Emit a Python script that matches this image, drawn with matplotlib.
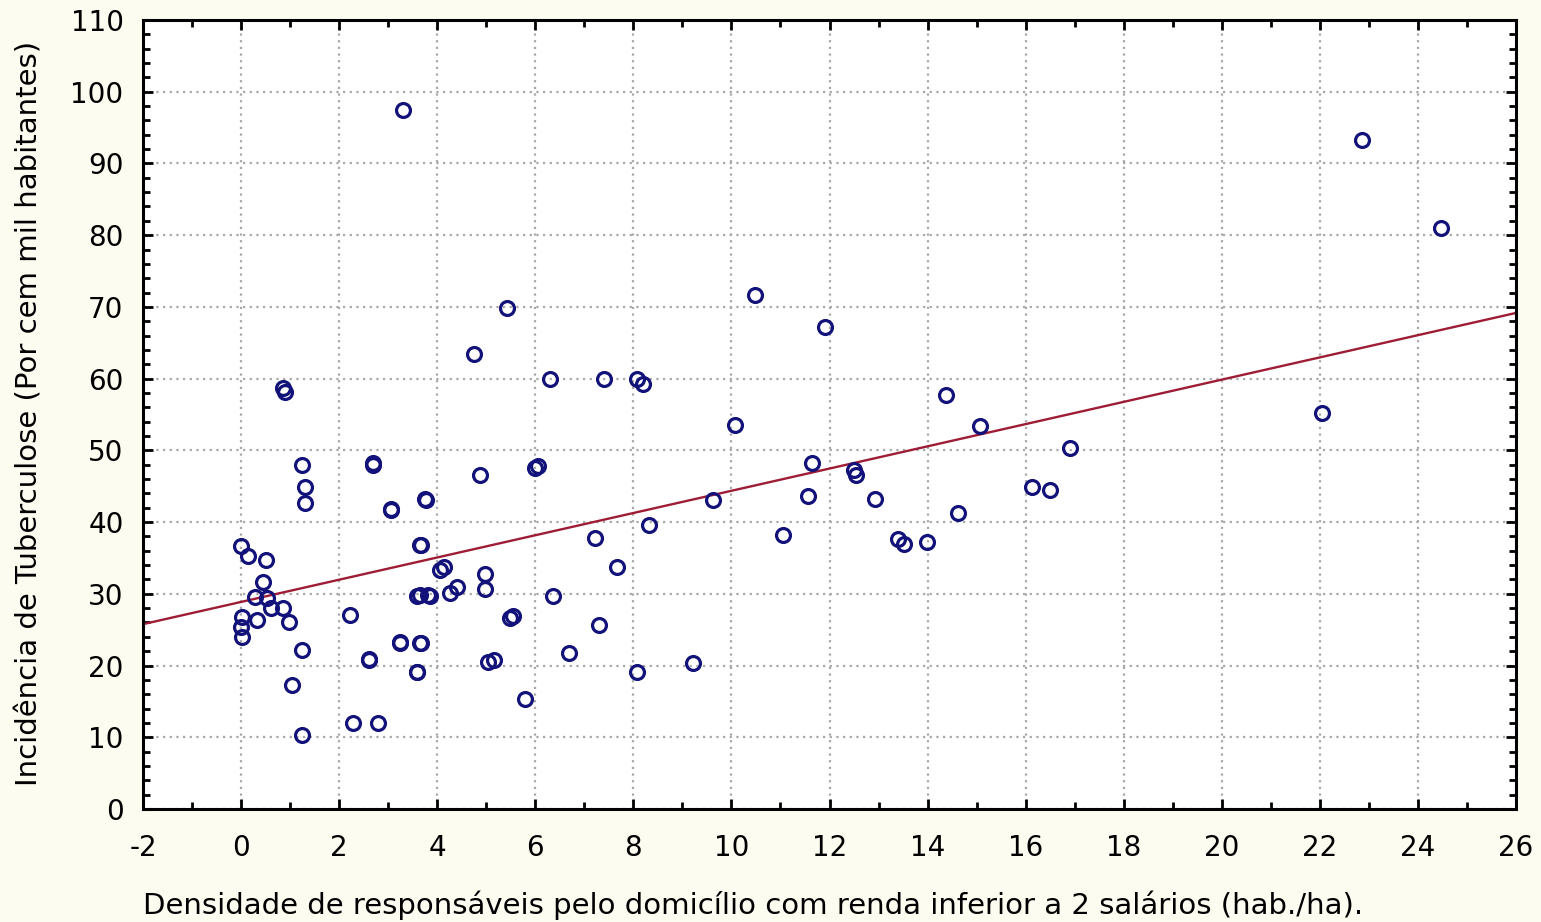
import matplotlib.pyplot as plt
import numpy as np

# densidade de responsaveis (hab./ha)
densidade = [
    1.24, 1.30, 1.30, 2.70, 3.75, 3.05, 3.65, 0.00, 0.15, 0.50,
    0.45, 0.29, 0.52, 0.60, 0.86, 0.97, 0.01, 0.32, 0.01, 0.00,
    1.24, 1.03, 1.24, 2.22, 2.60, 2.29, 2.79, 3.24, 3.65, 3.58,
    3.65, 3.82, 4.06, 4.40, 4.26, 5.42, 4.74, 6.30, 7.41, 8.07,
    8.19, 2.70, 4.87, 5.99, 3.77, 3.06, 8.32, 7.22, 3.67, 7.66,
    4.13, 4.98, 4.98, 3.58, 3.85, 6.37, 5.49, 7.29, 3.24, 3.67,
    6.69, 2.60, 3.58, 5.04, 5.15, 8.07, 9.22, 5.79, 9.63, 10.48,
    11.91, 14.37, 10.07, 15.07, 11.64, 12.49, 12.55, 16.90, 11.57, 12.93,
    16.12, 16.50, 14.63, 11.06, 13.40, 13.52, 13.98, 3.30, 22.86, 24.47,
    22.04, 0.86, 0.90, 5.55, 6.05,
]

# incidencia de tuberculose (por cem mil habitantes)
incidencia = [
    48.0, 44.9, 42.6, 48.2, 43.2, 41.7, 36.8, 36.6, 35.3, 34.7,
    31.7, 29.6, 29.4, 28.0, 28.0, 26.1, 26.8, 26.3, 24.0, 25.4,
    22.2, 17.3, 10.3, 27.1, 20.9, 12.0, 12.0, 23.3, 23.2, 19.1,
    29.8, 29.8, 33.3, 31.0, 30.1, 69.8, 63.5, 59.9, 59.9, 59.9,
    59.2, 48.0, 46.6, 47.5, 43.1, 41.8, 39.6, 37.8, 36.8, 33.7,
    33.8, 32.8, 30.7, 29.7, 29.7, 29.7, 26.6, 25.7, 23.2, 23.1,
    21.8, 20.8, 19.1, 20.5, 20.8, 19.1, 20.3, 15.4, 43.1, 71.7,
    67.2, 57.7, 53.5, 53.4, 48.2, 47.2, 46.6, 50.3, 43.6, 43.2,
    44.9, 44.5, 41.3, 38.2, 37.7, 37.0, 37.2, 97.4, 93.3, 81.0,
    55.2, 58.7, 58.2, 26.9, 47.8,
]

x_ticks = np.arange(-2, 27, 2)
y_ticks = np.arange(0, 111, 10)

x = np.array(densidade)
y = np.array(incidencia)
# reta de regressao linear ajustada aos pontos
slope, intercept = np.polyfit(x, y, 1)

fig = plt.figure(figsize=(15.41, 9.22), dpi=100, facecolor='#fdfcf0')
ax = fig.add_axes([0.0928, 0.1226, 0.891, 0.8557])
ax.set_facecolor('white')

line_x = np.array([-2, 26])
ax.plot(line_x, intercept + slope * line_x, color='#9e1c35', lw=1.7, zorder=2)
ax.plot(x, y, 'o', mfc='none', mec='#12127a', mew=2.3, ms=10, zorder=3)

ax.set_xlim(-2, 26)
ax.set_ylim(0, 110)
ax.set_xticks(x_ticks)
ax.set_yticks(y_ticks)
ax.set_xticks(np.arange(-2, 27, 1), minor=True)
ax.set_yticks(np.arange(0, 111, 2), minor=True)
ax.grid(True, which='major', linestyle=(0, (1, 2)), color='#a8a8a8', lw=1.6)
ax.tick_params(which='both', direction='in', top=True, right=True,
               width=2, colors='black')
ax.tick_params(which='major', length=7)
ax.tick_params(which='minor', length=5)
ax.tick_params(axis='x', pad=18)
ax.tick_params(axis='y', pad=14)
for s in ax.spines.values():
    s.set_linewidth(2.2)

ax.set_xticklabels([str(v) for v in x_ticks], fontsize=20)
ax.set_yticklabels([str(v) for v in y_ticks], fontsize=20)

fig.text(0.0928, 0.002, 'Densidade de responsáveis pelo domicílio com renda inferior a 2 salários (hab./ha).',
         fontsize=21, ha='left', va='bottom')
fig.text(0.019, 0.552, 'Incidência de Tuberculose (Por cem mil habitantes)',
         fontsize=21, rotation=90, ha='center', va='center')

plt.savefig('out.png', dpi=100, facecolor=fig.get_facecolor())
